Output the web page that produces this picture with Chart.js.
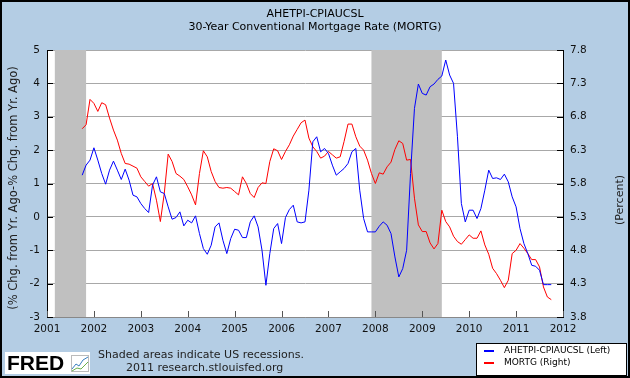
<!DOCTYPE html>
<html>
<head>
<meta charset="utf-8">
<script src="https://cdn.jsdelivr.net/npm/chart.js@4.4.1/dist/chart.umd.min.js"></script>
<style>
  html, body { margin: 0; padding: 0; background: #b4cde4; }
  #wrap { width: 630px; height: 378px; }
</style>
</head>
<body>
<div id="wrap"><canvas id="chart" width="630" height="378"></canvas></div>
<script>
// Monthly series, first point Oct 2001, last point Oct 2011
const startYear = 2001;
const startMonth = 10;

// AHETPI-CPIAUCSL, left axis (% chg from yr ago minus % chg from yr ago)
const wageMinusCpi = [
  1.25, 1.55, 1.7,
  2.07, 1.7, 1.3, 0.98, 1.4, 1.67, 1.4, 1.12, 1.43, 1.1, 0.65, 0.6,
  0.4, 0.25, 0.13, 0.95, 1.2, 0.75, 0.7, 0.3, -0.07, -0.02, 0.15, -0.27,
  -0.1, -0.18, 0.03, -0.5, -0.95, -1.12, -0.85, -0.3, -0.18, -0.7, -1.1, -0.65,
  -0.37, -0.4, -0.62, -0.62, -0.15, 0.03, -0.3, -1.0, -2.05, -1.1, -0.35, -0.2,
  -0.8, -0.02, 0.22, 0.35, -0.15, -0.18, -0.15, 0.8, 2.25, 2.4, 1.95, 2.05,
  1.9, 1.55, 1.25, 1.35, 1.45, 1.6, 1.95, 2.05, 0.8, -0.05, -0.45, -0.45,
  -0.45, -0.28, -0.15, -0.25, -0.5, -1.2, -1.8, -1.55, -1.0, 1.3, 3.25, 3.98,
  3.7, 3.65, 3.9, 3.98, 4.12, 4.22, 4.7, 4.25, 4.0, 2.4, 0.4, -0.15,
  0.2, 0.2, -0.05, 0.25, 0.8, 1.4, 1.15, 1.17, 1.12, 1.28, 1.05, 0.6,
  0.3, -0.35, -0.8, -1.1, -1.45, -1.48, -1.6, -2.03, -2.03, -2.03
];

// MORTG, right axis (percent)
const mortgageRate = [
  6.62, 6.68, 7.06,
  7.0, 6.88, 7.01, 6.98, 6.78, 6.6, 6.45, 6.25, 6.1, 6.09, 6.06, 6.03,
  5.9, 5.83, 5.76, 5.8, 5.55, 5.23, 5.65, 6.24, 6.13, 5.95, 5.91, 5.86,
  5.75, 5.63, 5.48, 5.95, 6.29, 6.2, 5.98, 5.83, 5.74, 5.73, 5.74, 5.73,
  5.68, 5.63, 5.9, 5.8, 5.65, 5.59, 5.74, 5.81, 5.8, 6.13, 6.32, 6.29,
  6.16, 6.28, 6.38, 6.51, 6.61, 6.71, 6.75, 6.48, 6.35, 6.28, 6.18, 6.21,
  6.28, 6.23, 6.18, 6.2, 6.43, 6.69, 6.69, 6.5, 6.36, 6.3, 6.15, 5.95,
  5.8, 5.96, 5.94, 6.05, 6.12, 6.31, 6.44, 6.4, 6.15, 6.16, 5.58, 5.18,
  5.08, 5.08, 4.91, 4.82, 4.9, 5.4, 5.23, 5.15, 5.01, 4.93, 4.89, 4.96,
  5.03, 4.98, 4.98, 5.09, 4.88, 4.74, 4.53, 4.45, 4.35, 4.24, 4.35, 4.75,
  4.8, 4.9, 4.83, 4.75, 4.66, 4.66, 4.55, 4.25, 4.1, 4.06
];

// US recessions (decimal years)
const recessions = [
  [2001 + 2 / 12, 2001 + 10 / 12],
  [2007 + 11 / 12, 2009 + 5 / 12]
];

const rightTicks = [3.8, 4.3, 4.8, 5.3, 5.8, 6.3, 6.8, 7.3, 7.8];

const FONT = 'DejaVu Sans';
const BG = '#b4cde4';

function toPoints(values) {
  return values.map((v, i) => ({ x: startYear + (startMonth - 1 + i) / 12, y: v }));
}

// Page background and white plot area
const backdrop = {
  id: 'backdrop',
  beforeDraw(chart) {
    const { ctx, chartArea: a } = chart;
    ctx.save();
    ctx.fillStyle = BG;
    ctx.fillRect(0, 0, chart.width, chart.height);
    ctx.fillStyle = '#fff';
    ctx.fillRect(a.left, a.top, a.right - a.left, a.bottom - a.top);
    ctx.restore();
  }
};

// Grey recession bands, over the grid but under the lines
const recessionBands = {
  id: 'recessionBands',
  beforeDatasetsDraw(chart) {
    const { ctx, chartArea: a, scales } = chart;
    ctx.save();
    ctx.fillStyle = '#c0c0c0';
    recessions.forEach(([from, to]) => {
      const x1 = scales.x.getPixelForValue(from);
      const x2 = scales.x.getPixelForValue(to);
      ctx.fillRect(x1, a.top, x2 - x1, a.bottom - a.top);
    });
    ctx.restore();
  }
};

// Inward tick marks, titles, footer, legend, frame
const decorations = {
  id: 'decorations',
  afterDraw(chart) {
    const { ctx, chartArea: a, scales } = chart;
    ctx.save();

    // tick marks pointing into the plot
    ctx.lineWidth = 1;
    ctx.strokeStyle = '#000';
    scales.yLeft.ticks.forEach(t => {
      const y = Math.round(scales.yLeft.getPixelForValue(t.value)) + 0.5;
      ctx.beginPath(); ctx.moveTo(a.left, y); ctx.lineTo(a.left + 6, y); ctx.stroke();
    });
    scales.yRight.ticks.forEach(t => {
      const y = Math.round(scales.yRight.getPixelForValue(t.value)) + 0.5;
      ctx.beginPath(); ctx.moveTo(a.right - 6, y); ctx.lineTo(a.right, y); ctx.stroke();
    });
    ctx.strokeStyle = '#555';
    scales.x.ticks.forEach(t => {
      const x = Math.round(scales.x.getPixelForValue(t.value)) + 0.5;
      ctx.beginPath(); ctx.moveTo(x, a.bottom); ctx.lineTo(x, a.bottom - 6); ctx.stroke();
    });

    // chart title
    ctx.fillStyle = '#000';
    ctx.textAlign = 'center';
    ctx.textBaseline = 'middle';
    ctx.font = '11px "' + FONT + '"';
    ctx.fillText('AHETPI-CPIAUCSL', 315, 14);
    ctx.fillText('30-Year Conventional Mortgage Rate (MORTG)', 315, 27);

    // axis titles
    ctx.fillStyle = '#222';
    ctx.save();
    ctx.translate(14, 188);
    ctx.rotate(-Math.PI / 2);
    ctx.font = '11.5px "' + FONT + '"';
    ctx.fillText('(% Chg. from Yr. Ago-% Chg. from Yr. Ago)', 0, 0);
    ctx.restore();
    ctx.save();
    ctx.translate(620, 200);
    ctx.rotate(-Math.PI / 2);
    ctx.font = '11px "' + FONT + '"';
    ctx.fillText('(Percent)', 0, 0);
    ctx.restore();

    // footer note
    ctx.textAlign = 'left';
    ctx.font = '11px "' + FONT + '"';
    ctx.fillText('Shaded areas indicate US recessions.', 98, 355);
    ctx.fillText('2011 research.stlouisfed.org', 126, 368);

    // FRED logo
    ctx.fillStyle = '#fff';
    ctx.fillRect(5, 352, 85, 22);
    ctx.fillStyle = '#000';
    ctx.font = 'bold 21px "Liberation Sans"';
    ctx.fillText('FRED', 7, 364);
    ctx.strokeStyle = '#bbb';
    ctx.strokeRect(71.5, 355.5, 17, 16);
    ctx.strokeStyle = '#3a7fc0';
    ctx.beginPath();
    ctx.moveTo(72, 369); ctx.lineTo(76, 364); ctx.lineTo(79, 366); ctx.lineTo(83, 360); ctx.lineTo(88, 357);
    ctx.stroke();
    ctx.strokeStyle = '#6ab04c';
    ctx.beginPath();
    ctx.moveTo(72, 371); ctx.lineTo(77, 368); ctx.lineTo(81, 369); ctx.lineTo(88, 362);
    ctx.stroke();

    // legend
    ctx.fillStyle = '#fff';
    ctx.fillRect(476, 343, 150, 32);
    ctx.strokeStyle = '#000';
    ctx.lineWidth = 1;
    ctx.strokeRect(476.5, 343.5, 150, 32);
    ctx.fillStyle = '#0000ff';
    ctx.fillRect(484, 350, 10, 2);
    ctx.fillStyle = '#ff0000';
    ctx.fillRect(484, 362, 10, 2);
    ctx.fillStyle = '#000';
    ctx.font = '9px "' + FONT + '"';
    ctx.fillText('AHETPI-CPIAUCSL (Left)', 504, 351);
    ctx.fillText('MORTG (Right)', 504, 363);

    // outer frame
    ctx.strokeStyle = '#000';
    ctx.lineWidth = 2;
    ctx.strokeRect(1, 1, chart.width - 2, chart.height - 2);
    ctx.restore();
  }
};

const tickFont = { family: FONT, size: 10.5 };

new Chart(document.getElementById('chart'), {
  type: 'line',
  data: {
    datasets: [
      {
        label: 'AHETPI-CPIAUCSL (Left)',
        data: toPoints(wageMinusCpi),
        yAxisID: 'yLeft',
        borderColor: '#0000ff',
        borderWidth: 1,
        pointRadius: 0,
        tension: 0
      },
      {
        label: 'MORTG (Right)',
        data: toPoints(mortgageRate),
        yAxisID: 'yRight',
        borderColor: '#ff0000',
        borderWidth: 1,
        pointRadius: 0,
        tension: 0
      }
    ]
  },
  options: {
    responsive: false,
    animation: false,
    devicePixelRatio: 1,
    layout: { padding: { top: 50, left: 0, right: 0, bottom: 0 } },
    plugins: {
      legend: { display: false },
      tooltip: { enabled: false }
    },
    scales: {
      x: {
        type: 'linear',
        min: 2001,
        max: 2012,
        ticks: {
          stepSize: 1,
          color: '#111',
          font: tickFont,
          padding: 6,
          maxRotation: 0,
          callback: v => String(v)
        },
        grid: { display: false, drawTicks: false, tickLength: 0 },
        border: { color: '#888', width: 1 },
        afterFit: s => { s.height = 61; }
      },
      yLeft: {
        position: 'left',
        min: -3,
        max: 5,
        ticks: { stepSize: 1, color: '#111', font: tickFont, padding: 7 },
        grid: { color: '#a8a8a8', drawTicks: false, tickLength: 0 },
        border: { color: '#000', width: 1 },
        afterFit: s => { s.width = 47; }
      },
      yRight: {
        position: 'right',
        min: 3.8,
        max: 7.8,
        afterBuildTicks: s => { s.ticks = rightTicks.map(v => ({ value: v })); },
        ticks: { color: '#111', font: tickFont, padding: 7, callback: v => v.toFixed(1) },
        grid: { display: false, drawTicks: false, tickLength: 0 },
        border: { color: '#000', width: 1 },
        afterFit: s => { s.width = 67; }
      }
    }
  },
  plugins: [backdrop, recessionBands, decorations]
});
</script>
</body>
</html>
